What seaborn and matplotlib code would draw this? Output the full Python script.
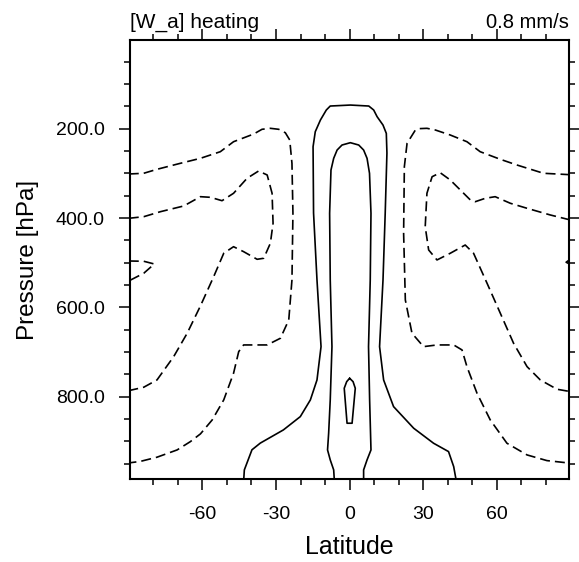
import numpy as np
import pandas as pd
import matplotlib
matplotlib.use("Agg")
import matplotlib.pyplot as plt
import seaborn as sns
from matplotlib.ticker import MultipleLocator, FixedLocator, FormatStrFormatter

# ---- data: contour lines (latitude [deg], pressure [hPa]) ----
# solid (positive) contours
s1_lat = [-43.2, -42.9, -39.8, -36.4, -27.0, -20.1, -16.0, -13.3, -11.65, -13.3, -14.7, -14.9, -14.0,
          -11.9, -9.5, -7.9, 0.3, 7.8, 9.8, 11.2, 13.6, 14.95, 15.2, 14.5, 13.6, 12.2, 13.85, 17.9, 26.1, 34.2,
          40.3, 42.4, 43.5]
s1_p = [990, 964, 919, 904, 874.5, 844.7, 807.3, 762.6, 688, 538.7, 388.7, 240.3, 206.7,
        180.5, 158.1, 149.2, 147, 149.2, 158.1, 173.1, 191.8, 210.5, 254.4, 388.7, 538.7, 688, 762.6, 822.3,
        870.7, 904.3, 923, 956.6, 990]

s2_lat = [-6.2, -6.5, -7.9, -9.0, -8.55, -7.9, -7.2, -7.9, -8.15, -7.6, -6.5, -5.1, -3.1, 0.3, 3.7, 5.7, 7.1,
          8.1, 8.7, 8.4, 7.7, 8.15, 8.7, 7.1, 5.7, 5.7]
s2_p = [990, 964, 941.6, 919.3, 881.9, 807.3, 688, 538.7, 389.4, 292.5, 266.3, 247.7, 236.5, 231.3, 236.5,
        247.7, 266.3, 299.8, 389.4, 538.7, 688, 807.3, 919.3, 941.6, 964, 990]

s3_lat = [0.0, -1.2, -2.2, -1.05, 1.0, 2.3, 1.4, 0.0]
s3_p = [758.8, 766.4, 781.2, 859.5, 859.5, 781.2, 766.4, 758.8]

# dashed (negative) contours
a_lat = [-90, -83.9, -78.5, -69.0, -60.8, -52.7, -47.3, -39.1, -35.7, -32.3, -28.9, -26.2, -24.4, -23.5,
         -23.1, -23.5, -24.8, -28.2, -33.6, -43.2, -45.2, -47.3, -51.3, -56.0, -60.8, -64.9, -70.3, -78.5,
         -85.3, -90]
a_p = [301.4, 299.8, 290.9, 277.5, 266.3, 251.5, 229.1, 211.9, 201.3, 199.1, 201.3, 209, 225.3, 277.5,
       389.4, 538.7, 628.2, 669.2, 684.2, 684.2, 699.2, 747.6, 807.3, 852.1, 883.4, 900.7, 919.3, 935.6,
       945, 948.4]

b_lat = [-90, -83.9, -77.1, -67.6, -60.8, -56.7, -52.0, -47.3, -41.8, -37.1, -33.6, -31.6, -31.2, -32.3,
         -35.0, -37.7, -43.2, -47.3, -51.3, -55.4, -60.8, -66.2, -71.7, -78.5, -83.9, -90]
b_p = [400.6, 397, 385.8, 373, 352.2, 353.6, 361.2, 344.6, 311, 294.7, 303.6, 344.6, 411.8, 456.5,
       490.1, 492.4, 475.3, 464.2, 478.9, 531.3, 596.9, 658, 710.4, 762.6, 778.9, 786.5]

c_lat = [-90, -83.9, -79.6, -83.9, -90]
c_p = [496.2, 496.8, 502.9, 523.7, 540.9]

ar_lat = [90, 79.0, 68.2, 61.4, 53.2, 47.8, 41.0, 35.0, 31.5, 28.5, 26.8, 23.4, 22.3, 22.0, 22.7, 25.4,
          30.1, 35.6, 42.4, 45.8, 47.8, 51.9, 57.3, 64.1, 72.3, 80.4, 90]
ar_p = [303, 299.8, 281.3, 268.5, 251.5, 229.1, 214.1, 203, 199.1, 199.8, 202.9, 232.7, 285, 434.2, 583.5,
        658, 688, 684.2, 684.2, 695.4, 732.8, 792.3, 852.1, 904.3, 930.5, 943.2, 949]

br_lat = [90, 81.8, 72.3, 65.5, 59.3, 55.3, 51.2, 49.2, 41.0, 36.9, 33.6, 31.5, 30.8, 32.2, 35.6, 41.0,
          47.1, 50.5, 56.0, 61.4, 66.8, 72.3, 77.7, 84.5, 90]
br_p = [404.4, 393.2, 378.2, 367, 352.2, 355.8, 363.4, 359.6, 314.8, 298.5, 307.5, 344.6, 419.4, 471.5, 493.9, 478.9,
        460.4, 478.9, 546.1, 613.2, 680.4, 732.8, 762.6, 783.4, 788.7]

cr_lat = [90, 88.2, 90]
cr_p = [492, 499, 504]

y_ticks = [200, 400, 600, 800]
x_ticks = [-60, -30, 0, 30, 60]
title_left = "[W_a] heating"
title_right = "0.8 mm/s"

# ---- build table ----
frames = []
for cid, (la, pp, kind) in enumerate([
        (s1_lat, s1_p, "pos"), (s2_lat, s2_p, "pos"), (s3_lat, s3_p, "pos"),
        (a_lat, a_p, "neg"), (b_lat, b_p, "neg"), (c_lat, c_p, "neg"),
        (ar_lat, ar_p, "neg"), (br_lat, br_p, "neg"), (cr_lat, cr_p, "neg")]):
    frames.append(pd.DataFrame({"lat": la, "p": pp, "cid": cid, "kind": kind}))
df = pd.concat(frames, ignore_index=True)

sns.set_style("ticks")
plt.rcParams["font.family"] = ["Liberation Sans", "DejaVu Sans"]
plt.rcParams["axes.unicode_minus"] = False
for k in ["text.color", "axes.labelcolor", "xtick.color", "ytick.color", "axes.edgecolor"]:
    plt.rcParams[k] = "black"

fig = plt.figure(figsize=(5.79, 5.62), dpi=100)
ax = fig.add_axes([0.2245, 0.1472, 0.7587, 0.7811])

sns.lineplot(data=df, x="lat", y="p", units="cid", style="kind", estimator=None, sort=False,
             dashes={"pos": "", "neg": (6, 3)}, color="black", linewidth=1.2, legend=False, ax=ax)

ax.set_xlim(-89.5, 89.5)
ax.set_ylim(985, 2)

ax.xaxis.set_major_locator(FixedLocator(x_ticks))
ax.xaxis.set_minor_locator(MultipleLocator(10))
ax.yaxis.set_major_locator(FixedLocator(y_ticks))
ax.yaxis.set_minor_locator(MultipleLocator(50))
ax.yaxis.set_major_formatter(FormatStrFormatter("%.1f"))

ax.tick_params(which="both", direction="out", top=True, right=True, labeltop=False, labelright=False,
               width=1.1, color="black", labelcolor="black")
ax.tick_params(which="major", length=8, labelsize=14)
ax.tick_params(axis="y", which="major", pad=10)
ax.tick_params(axis="x", which="major", pad=11)
ax.tick_params(which="minor", length=4.3)

for s in ax.spines.values():
    s.set_linewidth(1.5)
    s.set_color("black")

ax.set_xlabel("Latitude", fontsize=18, labelpad=9)
ax.set_ylabel("Pressure [hPa]", fontsize=17.5, labelpad=12)
ax.set_title(title_left, loc="left", fontsize=15, pad=9)
ax.set_title(title_right, loc="right", fontsize=14.5, pad=9)

fig.savefig("out.png", dpi=100, facecolor="white")
